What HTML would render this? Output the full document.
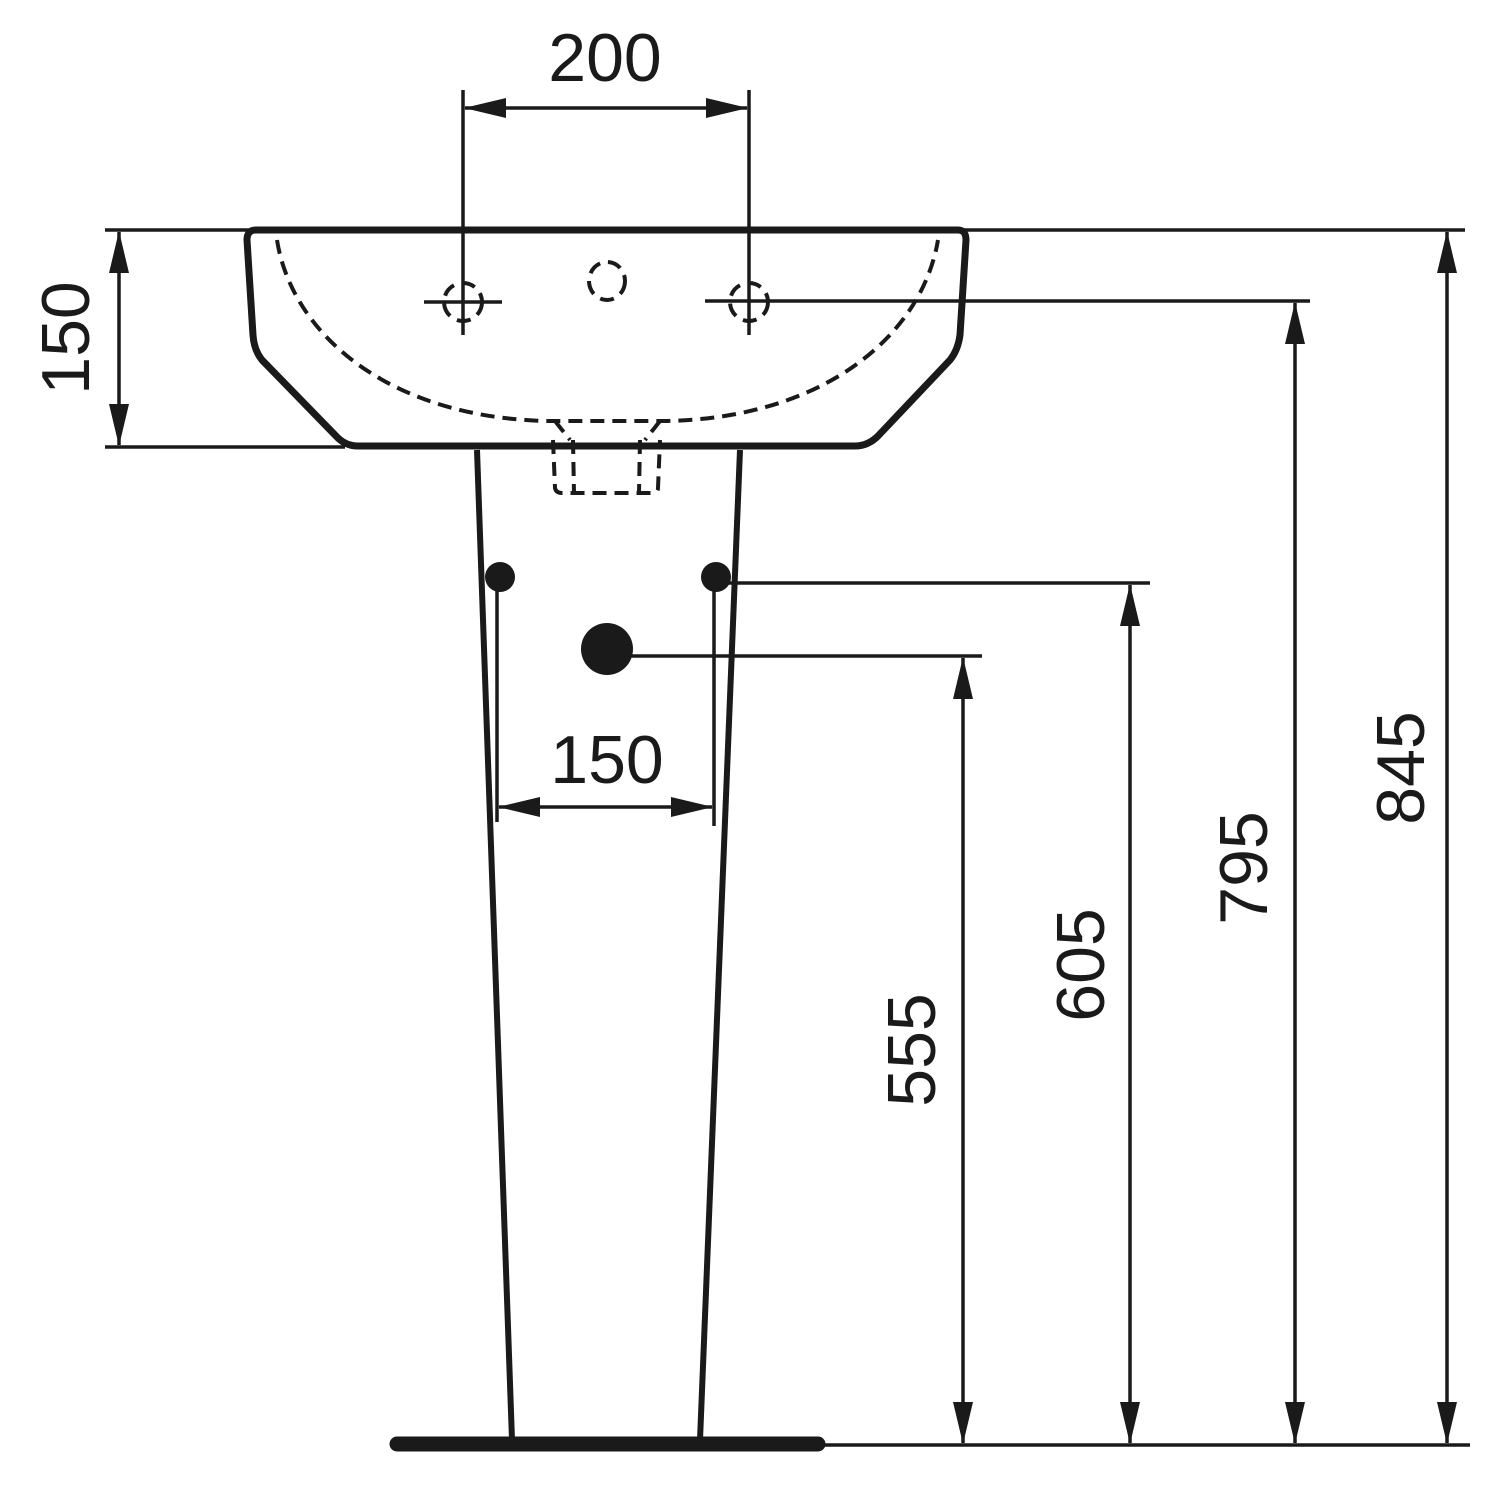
<!DOCTYPE html>
<html><head><meta charset="utf-8"><style>html,body{margin:0;padding:0;background:#fff}</style></head>
<body>
<svg width="1500" height="1500" viewBox="0 0 1500 1500" xmlns="http://www.w3.org/2000/svg">
<defs>
<marker id="a" markerWidth="42" markerHeight="22" refX="41" refY="11" orient="auto-start-reverse" markerUnits="userSpaceOnUse">
<path d="M0,1 L42,11 L0,21 Z" fill="#1a1a1a"/>
</marker>
</defs>
<g stroke="#1a1a1a" fill="none">
<g stroke-width="3.5">
<line x1="463" y1="90" x2="463" y2="335"/>
<line x1="749" y1="90" x2="749" y2="335"/>
<line x1="105" y1="230" x2="250" y2="230"/>
<line x1="105" y1="447" x2="345" y2="447"/>
<line x1="964" y1="230" x2="1465" y2="230"/>
<line x1="705" y1="301" x2="1310" y2="301"/>
<line x1="720" y1="583" x2="1150" y2="583"/>
<line x1="607" y1="656" x2="982" y2="656"/>
<line x1="822" y1="1445" x2="1470" y2="1445"/>
<line x1="424" y1="302" x2="502" y2="302"/>
<line x1="497" y1="590" x2="497" y2="822"/>
<line x1="714" y1="590" x2="714" y2="826"/>
</g>
<g stroke-width="3.5">
<line x1="465" y1="108" x2="747" y2="108" marker-start="url(#a)" marker-end="url(#a)"/>
<line x1="499" y1="807" x2="712" y2="807" marker-start="url(#a)" marker-end="url(#a)"/>
<line x1="119" y1="232" x2="119" y2="445" marker-start="url(#a)" marker-end="url(#a)"/>
<line x1="1447" y1="232" x2="1447" y2="1443" marker-start="url(#a)" marker-end="url(#a)"/>
<line x1="1295" y1="303" x2="1295" y2="1443" marker-start="url(#a)" marker-end="url(#a)"/>
<line x1="1130" y1="585" x2="1130" y2="1443" marker-start="url(#a)" marker-end="url(#a)"/>
<line x1="963" y1="658" x2="963" y2="1443" marker-start="url(#a)" marker-end="url(#a)"/>
</g>
<path d="M256,230 L958,230 Q966,230 966,240 L960,335 Q958,350 950,360 L878,436 Q868,446 855,446 L358,446 Q345,446 336,436 L262,360 Q254,350 253,335 L247,240 Q247,230 256,230 Z" stroke-width="7" stroke-linejoin="round"/>
<g stroke-width="4" stroke-dasharray="14,8">
<path d="M277,240 C292,335 390,418 548,421 L666,421 C825,418 922,335 938,240"/>
<ellipse cx="607" cy="281" rx="18" ry="19"/>
<circle cx="463" cy="302" r="19"/>
<circle cx="749" cy="302" r="19"/>
<path d="M555,421 L570,440 M660,421 L645,440"/>
<path d="M553,440 L555,488 Q556,493 562,493 L652,493 Q658,493 658,488 L660,440"/>
<path d="M573,440 L574,493 M640,440 L639,493"/>
</g>
<g stroke-width="6">
<line x1="477" y1="450" x2="512" y2="1440"/>
<line x1="740" y1="450" x2="700" y2="1440"/>
</g>
<line x1="397" y1="1444" x2="818" y2="1444" stroke-width="15" stroke-linecap="round"/>
</g>
<g fill="#1a1a1a">
<circle cx="500" cy="577" r="15"/>
<circle cx="716" cy="577" r="15"/>
<circle cx="607" cy="649" r="26"/>
</g>
<g font-family="'Liberation Sans', Arial, sans-serif" font-size="68" fill="#1a1a1a" text-anchor="middle">
<text x="605" y="81">200</text>
<text x="607" y="783">150</text>
<text transform="translate(89,338) rotate(-90)">150</text>
<text transform="translate(1424,768) rotate(-90)">845</text>
<text transform="translate(1267,868) rotate(-90)">795</text>
<text transform="translate(1104,965) rotate(-90)">605</text>
<text transform="translate(935,1050) rotate(-90)">555</text>
</g>
</svg>
</body></html>
